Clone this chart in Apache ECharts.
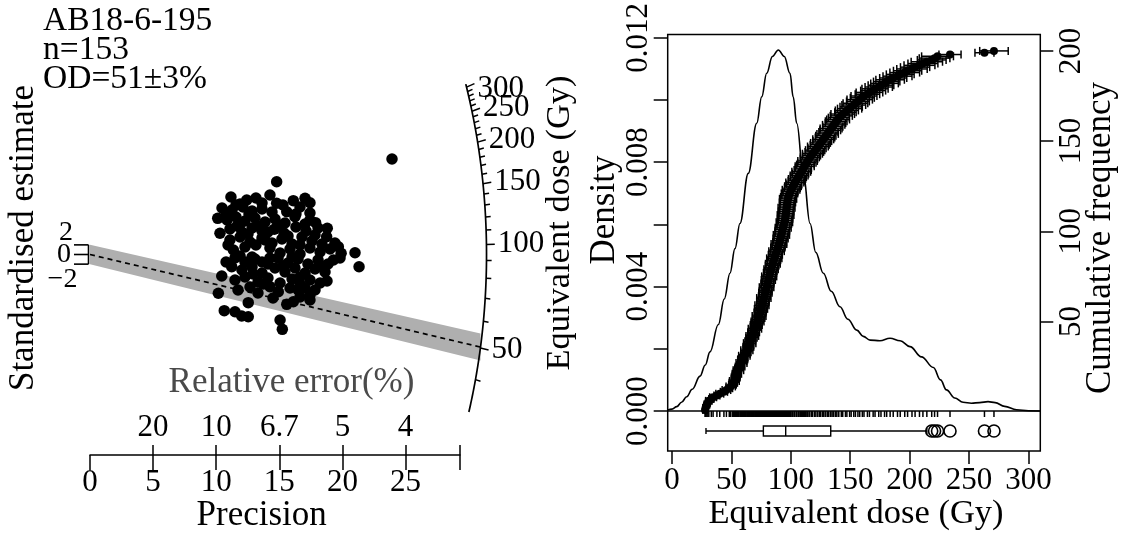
<!DOCTYPE html>
<html><head><meta charset="utf-8">
<script src="https://cdn.jsdelivr.net/npm/echarts@6.0.0/dist/echarts.min.js"></script>
<style>html,body{margin:0;padding:0;background:#fff}#c{width:1129px;height:541px}</style>
</head><body><div id="c"></div>
<script>
// ================= DATA =================
const headerLines = ['AB18-6-195', 'n=153', 'OD=51\u00b13%'];

// Radial plot points: [precision, standardised estimate]
const radialPoints = [
[23.93,19.82],[14.79,15.11],
[11.17,11.93],[12.42,11.31],[13.15,11.73],[14.26,12.35],[14.79,10.63],[16.11,11.17],[17.04,11.66],[17.43,10.75],[13.63,10.69],[11.89,10.48],
[10.46,9.65],[11.25,9.24],[12.12,9.86],[12.84,9.03],[13.63,9.44],[14.42,8.82],[15.59,8.88],[16.32,8.41],[17.43,8.61],[12.60,8.41],
[10.12,7.51],[10.86,7.16],[11.57,7.78],[12.28,6.95],[13.07,7.58],[13.87,6.75],[14.66,7.37],[15.45,6.54],[16.24,7.85],[17.04,6.33],[17.43,7.16],[17.88,6.60],[11.89,6.33],
[10.30,4.40],[11.09,5.29],[12.04,4.67],[12.84,5.50],[13.63,4.88],[14.60,5.23],[15.37,4.46],[16.32,5.71],[17.12,4.88],[18.07,5.50],[18.80,5.44],[13.31,5.92],
[11.09,3.01],[11.89,3.63],[12.68,2.59],[13.63,3.42],[14.42,2.39],[15.21,3.22],[16.01,2.18],[16.80,3.63],[17.59,2.80],[18.38,2.18],[18.75,3.69],[19.41,2.39],[13.15,1.97],
[11.36,0.93],[12.28,1.56],[12.84,-0.52],[14.26,1.35],[15.06,0.31],[15.85,1.14],[16.64,0.10],[17.43,1.35],[18.23,0.52],[19.02,1.14],[19.68,1.62],[19.90,0.25],[21.00,0.37],[14.26,-0.73],
[11.49,-0.73],[12.28,-1.56],[13.07,-0.93],[14.10,-1.97],[14.90,-0.73],[15.69,-1.76],[16.48,-0.93],[17.27,-1.97],[18.07,-1.14],[18.86,-1.97],[19.81,-0.73],
[11.23,-2.53],[12.04,-3.22],[12.84,-2.59],[13.63,-3.84],[14.66,-2.80],[15.45,-3.63],[16.24,-2.80],[17.04,-3.84],[17.83,-3.01],[18.62,-3.63],[21.32,-2.53],
[10.44,-4.46],[11.49,-5.29],[12.28,-4.67],[13.31,-5.71],[14.10,-4.88],[15.06,-5.92],[16.01,-5.09],[16.64,-6.12],[17.43,-5.29],[18.23,-5.92],
[11.73,-7.37],[12.68,-6.75],[13.73,-6.12],[14.26,-6.68],[14.92,-7.72],[15.85,-6.95],[16.50,-7.37],[17.43,-8.41],[17.04,-6.95],
[10.17,-8.05],[12.54,-10.00],[15.59,-10.34],[16.11,-9.80],[17.43,-9.44],[16.64,-8.82],
[10.64,-11.66],[11.49,-11.87],[12.02,-12.76],[12.54,-12.91],[15.06,-13.59],
[15.24,-15.53],
[10.78,8.41],[11.65,5.92],[12.52,4.25],[13.87,3.01],[14.90,6.12],[15.69,3.84],[16.64,1.97],[17.83,4.05],[13.63,-1.56],[15.29,-2.39],[16.64,-4.67],[17.83,-7.37],[18.78,-5.50],[12.92,-4.05],[11.89,-0.31],[10.94,1.97],[11.57,10.27],[15.29,10.27],[16.64,9.86],[14.10,4.67],[16.01,-0.52],[18.38,-2.39],[19.29,-1.14],[14.50,-9.03],[13.31,-7.99],[10.78,-1.56]
];
const radialZCentral = 93.6;      // Gy at standardised estimate 0
const radialCentralDose = 50.3;   // Gy, dashed central line
const arcDoseRange = [31.5, 307];
const arcMajorTicks = [50, 100, 150, 200, 250, 300];
const arcMinorTicks = [40, 60, 70, 80, 90, 110, 120, 130, 140, 160, 170, 180, 190, 210, 220, 230, 240, 260, 270, 280, 290];
const zTickValues = [2, 0, -2];
const zTickLabels = ['2', '0', '\u22122'];
const precisionTicks = [0, 5, 10, 15, 20, 25];
const relErrorTickPos = [5, 10, 15, 20, 25];
const relErrorTickLabels = ['20', '10', '6.7', '5', '4'];

// KDE panel: sorted equivalent doses (Gy) and their errors (Gy)
const doses = [
27.8,28.3,28.6,29.4,30.2,31.0,33.1,34.6,37.8,40.2,
43.7,45.8,48.2,49.4,50.9,51.6,52.5,52.9,53.6,54.0,
54.6,55.0,55.9,56.4,57.3,57.7,58.5,59.1,59.5,60.4,
60.9,61.8,62.2,63.0,63.5,64.3,64.7,65.4,65.8,66.5,
66.9,67.6,68.0,68.7,69.1,69.8,70.2,70.9,71.2,72.0,
72.3,73.0,73.3,73.9,74.1,74.7,74.9,75.5,75.7,76.3,
76.5,77.1,77.3,77.8,78.0,78.6,78.8,79.4,79.6,80.2,
80.3,80.9,81.1,81.7,81.8,82.4,82.5,83.1,83.4,84.0,
84.3,84.9,85.2,85.8,86.1,86.7,87.0,87.7,88.0,88.7,
89.1,89.8,90.0,90.6,90.8,91.4,91.6,92.1,92.3,92.8,
93.0,93.6,93.8,94.4,94.6,95.2,95.2,95.6,95.6,96.0,
96.0,96.4,96.4,96.8,96.8,97.2,97.2,97.7,97.8,98.5,
98.9,99.8,100.2,101.3,101.8,102.9,103.4,104.6,105.2,106.4,
107.0,108.2,108.8,110.0,110.6,111.7,112.3,113.5,114.1,115.3,
116.0,117.5,118.2,119.8,120.5,122.1,122.8,124.3,125.0,126.5,
127.3,128.8,129.5,131.0,131.7,133.2,133.9,135.4,136.1,137.6,
138.2,139.8,140.4,142.5,143.7,146.0,147.2,149.5,150.8,153.0,
154.4,156.5,158.0,160.2,161.6,164.5,166.2,169.3,170.9,174.0,
175.9,178.9,180.7,183.6,186.2,189.8,192.1,195.9,198.3,202.0,
204.6,208.3,211.2,214.5,218.6,221.0,223.5,234.0,263.0,271.0
];
const doseErrors = [
1.8,2.2,1.6,2.4,2.0,2.7,2.1,2.9,2.5,3.3,
3.0,3.6,2.8,3.9,3.2,3.5,4.1,3.0,3.7,3.4,
3.9,3.3,4.4,3.6,4.0,3.2,4.6,3.8,4.2,3.5,
4.8,3.9,4.3,5.1,3.7,4.5,4.0,5.2,4.4,3.9,
4.7,5.3,4.1,4.9,4.4,5.6,4.2,5.0,4.6,5.4,
4.5,5.1,5.8,4.3,5.0,4.7,5.5,4.4,5.9,4.8,
5.2,4.6,6.0,5.0,4.7,5.6,5.3,4.5,6.1,5.0,
5.4,4.8,5.9,5.1,6.3,4.9,5.5,5.2,6.0,4.8,
5.7,6.2,5.0,5.6,6.4,5.3,5.9,5.1,6.5,5.6,
6.0,5.4,6.6,5.8,5.2,6.3,5.7,6.8,5.5,6.1,
5.9,6.7,5.4,6.2,6.9,5.6,6.4,5.8,7.0,6.0,
6.5,5.7,7.1,6.2,5.9,6.8,6.1,7.2,6.4,6.0,
6.9,6.3,7.4,6.6,7.0,6.4,7.6,6.8,7.2,6.7,
7.5,6.9,7.9,7.2,6.8,8.0,7.4,7.7,8.2,7.3,
8.0,7.5,8.4,7.8,8.1,7.6,8.7,8.0,8.3,7.9,
8.8,8.2,8.5,9.0,8.1,8.7,9.2,8.4,9.4,8.6,
9.1,9.6,8.8,9.3,9.9,9.0,9.7,10.2,9.4,10.0,
10.4,9.6,10.7,10.1,10.9,10.3,11.2,10.5,11.0,11.5,
10.8,11.6,11.1,12.0,11.4,12.2,11.7,12.5,11.9,12.8,
12.3,13.0,12.6,13.2,12.1,12.9,13.4,9.3,8.0,12.0
];
// Kernel density curve: [dose (Gy), density]
const kdePoints = [
[-3.6,0.00003],[0,0.00006],[4,0.00014],[8,0.00028],[12.4,0.00046],[17,0.00070],[23.6,0.00112],[28,0.00148],
[32,0.0019],[39,0.00278],[44,0.0036],[48.8,0.00443],[53,0.00522],[57.2,0.00603],[64.2,0.00764],[71.3,0.00925],
[75.5,0.0101],[79.7,0.01086],[84.5,0.0114],[89.5,0.01161],[94.5,0.0114],[99.3,0.01086],[102,0.0101],[105,0.00925],
[110.5,0.00764],[116.2,0.00603],[121,0.0051],[127.4,0.00443],[134,0.00385],[141.4,0.00335],[148,0.00295],
[155.5,0.0026],[161,0.0024],[166.7,0.00228],[175,0.00226],[183.5,0.00234],[192,0.00226],[200.3,0.00207],
[210,0.00174],[220,0.0014],[226,0.001],[231,0.00068],[238,0.00042],[245,0.00028],[252,0.00025],[259,0.00027],
[266,0.0003],[272,0.00027],[280,0.00015],[290,0.00004],[300,0.00001],[310,0]
];
// Boxplot: [lower whisker, Q1, median, Q3, upper whisker] and outliers
const boxStats = [28.6, 76.9, 95.7, 133.6, 214.5];
const boxOutliers = [218.6, 221.0, 223.5, 234.0, 263.0, 271.0];
const doseTicks = [0, 50, 100, 150, 200, 250, 300];
const densityTicks = [0, 0.002, 0.004, 0.006, 0.008, 0.010, 0.012];
const densityLabels = [0, 0.004, 0.008, 0.012];
const cumFreqTicks = [50, 100, 150, 200];

// ================= CHART =================
const FONT = 'Liberation Serif';
const BLACK = '#000';
const arcR = 31.42, arcF = 0.2836;           // radial-plot arc geometry
const bandHalf = [2, 2.8];                   // grey band half-width (origin, arc)
const precMax = 29.32;

function arcPoint(d, k) {
  const s = Math.log(d / radialZCentral);
  const x = arcR / Math.sqrt(1 + arcF * arcF * s * s) * k;
  return [x, s * x];
}

const chart = echarts.init(document.getElementById('c'), null, {renderer: 'canvas', width: 1129, height: 541});

const lbl = (size) => ({fontFamily: FONT, fontSize: size, color: BLACK});
const tickLine = {color: BLACK, width: 1.5};

const cumData = doses.map((d, i) => [d, i + 1, doseErrors[i]]);
const boxY = -0.000643;

const option = {
  animation: false,
  backgroundColor: '#fff',
  grid: [
    {left: 90, top: 60, width: 403.84, height: 380, containLabel: false, outerBoundsMode: 'none'},
    {left: 90, top: 455, width: 370, height: 0.01, containLabel: false, outerBoundsMode: 'none'},
    {left: 667.7, top: 34.5, width: 372.6, height: 416.5, show: true, borderColor: BLACK, borderWidth: 1.5,
     backgroundColor: 'transparent', containLabel: false, outerBoundsMode: 'none'}
  ],
  xAxis: [
    {gridIndex: 0, type: 'value', min: 0, max: 32, show: false},
    {gridIndex: 1, type: 'value', min: 0, max: precMax, position: 'bottom',
     axisLine: {show: true, onZero: false, lineStyle: tickLine},
     axisTick: {show: true, length: 15, customValues: precisionTicks.concat([precMax]), lineStyle: tickLine},
     axisLabel: {customValues: precisionTicks, margin: 12, ...lbl(31)},
     splitLine: {show: false}},
    {gridIndex: 1, type: 'value', min: 0, max: precMax, position: 'top',
     axisLine: {show: false, onZero: false},
     axisTick: {show: true, length: 10, customValues: relErrorTickPos.concat([precMax]), lineStyle: tickLine},
     axisLabel: {customValues: relErrorTickPos, margin: 12, ...lbl(31),
       formatter: (v) => relErrorTickLabels[relErrorTickPos.indexOf(v)] || ''},
     splitLine: {show: false}},
    {gridIndex: 2, type: 'value', min: -3.62, max: 310, position: 'bottom',
     axisLine: {show: false, onZero: false},
     axisTick: {show: true, length: 13, customValues: doseTicks, lineStyle: tickLine},
     axisLabel: {customValues: doseTicks, margin: 14, ...lbl(31)},
     splitLine: {show: false}}
  ],
  yAxis: [
    {gridIndex: 0, type: 'value', min: -38.50, max: 40.37, show: false},
    {gridIndex: 1, type: 'value', min: 0, max: 1, show: false},
    {gridIndex: 2, type: 'value', min: -0.001286, max: 0.012106, position: 'left',
     axisLine: {show: false, onZero: false},
     axisTick: {show: true, length: 14, customValues: densityTicks, lineStyle: tickLine},
     axisLabel: {customValues: densityLabels, rotate: 90, margin: 13, ...lbl(31), formatter: (v) => v.toFixed(3)},
     splitLine: {show: false}},
    {gridIndex: 2, type: 'value', min: -21.79, max: 209.1, position: 'right',
     axisLine: {show: false, onZero: false},
     axisTick: {show: true, length: 13, customValues: cumFreqTicks, lineStyle: tickLine},
     axisLabel: {customValues: cumFreqTicks, rotate: 90, margin: 16, ...lbl(31)},
     splitLine: {show: false}}
  ],
  series: [
    // ---- radial plot ----
    {type: 'custom', xAxisIndex: 0, yAxisIndex: 0, data: [[0, 0]], z: 1, silent: true,
     renderItem: (params, api) => {
       const e = arcPoint(radialCentralDose, 1);
       const pts = [api.coord([0, -bandHalf[0]]), api.coord([0, bandHalf[0]]),
                    api.coord([e[0], e[1] + bandHalf[1]]), api.coord([e[0], e[1] - bandHalf[1]])];
       return {type: 'polygon', shape: {points: pts}, style: {fill: '#afafaf', stroke: null}};
     }},
    {type: 'line', xAxisIndex: 0, yAxisIndex: 0, z: 2, silent: true, symbol: 'none',
     data: [[0, 0], arcPoint(radialCentralDose, 1)],
     lineStyle: {color: BLACK, width: 1.7, type: [5, 4], opacity: 1}},
    {type: 'custom', xAxisIndex: 0, yAxisIndex: 0, z: 3, silent: true, data: zTickValues.map(z => [0, z]),
     renderItem: (params, api) => {
       const z = api.value(1);
       const c = api.coord([0, z]);
       const children = [{type: 'line', shape: {x1: c[0] - 16, y1: c[1], x2: c[0] - 1.5, y2: c[1]},
                          style: {stroke: BLACK, lineWidth: 1.6}}];
       if (z === 0) {
         const a = api.coord([0, 2]), b = api.coord([0, -2]);
         children.push({type: 'line', shape: {x1: a[0] - 1.5, y1: a[1], x2: b[0] - 1.5, y2: b[1]},
                        style: {stroke: BLACK, lineWidth: 1.6}});
       }
       const idx = zTickValues.indexOf(z);
       const off = z > 0 ? -12.4 : (z < 0 ? 15 : 0.5);
       const lx = z > 0 ? 66 : (z < 0 ? 62.5 : 64);
       children.push({type: 'text', style: {text: zTickLabels[idx], x: lx, y: c[1] + off,
         font: '28px "' + FONT + '"', align: 'center', verticalAlign: 'middle', fill: BLACK}});
       return {type: 'group', children};
     }},
    {type: 'custom', xAxisIndex: 0, yAxisIndex: 0, z: 3, silent: true, data: [[0, 0]],
     renderItem: (params, api) => {
       const pts = [];
       const l0 = Math.log(arcDoseRange[0]), l1 = Math.log(arcDoseRange[1]);
       for (let i = 0; i <= 240; i++) pts.push(api.coord(arcPoint(Math.exp(l0 + (l1 - l0) * i / 240), 1)));
       return {type: 'polyline', shape: {points: pts}, style: {stroke: BLACK, lineWidth: 1.7, fill: null}};
     }},
    {type: 'custom', xAxisIndex: 0, yAxisIndex: 0, z: 3, silent: true,
     data: arcMajorTicks.map(d => [d, 1]).concat(arcMinorTicks.map(d => [d, 0])),
     renderItem: (params, api) => {
       const d = api.value(0), major = api.value(1) === 1;
       const p0 = api.coord(arcPoint(d, 1));
       const p1 = api.coord(arcPoint(d, major ? 1.021 : 1.013));
       const children = [{type: 'line', shape: {x1: p0[0], y1: p0[1], x2: p1[0], y2: p1[1]},
                          style: {stroke: BLACK, lineWidth: 1.5}}];
       if (major) children.push({type: 'text', style: {text: String(d), x: p1[0] + 3, y: p1[1] + (d === 300 ? 5 : 0),
         font: '31px "' + FONT + '"', align: 'left', verticalAlign: 'middle', fill: BLACK}});
       return {type: 'group', children};
     }},
    {type: 'scatter', xAxisIndex: 0, yAxisIndex: 0, z: 4, silent: true, data: radialPoints,
     symbol: 'circle', symbolSize: 11.5, itemStyle: {color: BLACK, opacity: 1}},

    // ---- KDE panel ----
    {type: 'line', xAxisIndex: 3, yAxisIndex: 2, z: 3, silent: true, data: kdePoints, symbol: 'none',
     smooth: 0.4, smoothMonotone: 'x', lineStyle: {color: BLACK, width: 1.6},
     markLine: {silent: true, symbol: 'none', label: {show: false},
       lineStyle: {color: BLACK, width: 1.6, type: 'solid', opacity: 1}, data: [{yAxis: 0}]}},
    {type: 'custom', xAxisIndex: 3, yAxisIndex: 2, z: 3, silent: true, data: doses.map(d => [d, 0]),
     renderItem: (params, api) => {
       const c = api.coord([api.value(0), 0]);
       return {type: 'line', shape: {x1: c[0], y1: c[1], x2: c[0], y2: c[1] + 6},
               style: {stroke: BLACK, lineWidth: 1.5}};
     }},
    {type: 'custom', xAxisIndex: 3, yAxisIndex: 2, z: 3, silent: true, data: [boxStats],
     renderItem: (params, api) => {
       const v = [0, 1, 2, 3, 4].map(i => api.coord([api.value(i), boxY]));
       const y = v[0][1], h = 5;
       const st = {stroke: BLACK, lineWidth: 1.4, fill: null};
       return {type: 'group', children: [
         {type: 'line', shape: {x1: v[0][0], y1: y, x2: v[1][0], y2: y}, style: st},
         {type: 'line', shape: {x1: v[3][0], y1: y, x2: v[4][0], y2: y}, style: st},
         {type: 'line', shape: {x1: v[0][0], y1: y - 3, x2: v[0][0], y2: y + 3}, style: st},
         {type: 'line', shape: {x1: v[4][0], y1: y - 3, x2: v[4][0], y2: y + 3}, style: st},
         {type: 'rect', shape: {x: v[1][0], y: y - h, width: v[3][0] - v[1][0], height: 2 * h}, style: {stroke: BLACK, lineWidth: 1.4, fill: '#fff'}},
         {type: 'line', shape: {x1: v[2][0], y1: y - h, x2: v[2][0], y2: y + h}, style: st}
       ]};
     }},
    {type: 'scatter', xAxisIndex: 3, yAxisIndex: 2, z: 4, silent: true, data: boxOutliers.map(o => [o, boxY]),
     symbol: 'circle', symbolSize: 12, itemStyle: {color: 'rgba(0,0,0,0)', borderColor: BLACK, borderWidth: 1.6, opacity: 1}},
    {type: 'custom', xAxisIndex: 3, yAxisIndex: 3, z: 4, silent: true, data: cumData,
     renderItem: (params, api) => {
       const d = api.value(0), r = api.value(1), e = api.value(2);
       const a = api.coord([d - e, r]), b = api.coord([d + e, r]);
       const st = {stroke: BLACK, lineWidth: 1.5};
       return {type: 'group', children: [
         {type: 'line', shape: {x1: a[0], y1: a[1], x2: b[0], y2: b[1]}, style: st},
         {type: 'line', shape: {x1: a[0], y1: a[1] - 4, x2: a[0], y2: a[1] + 4}, style: st},
         {type: 'line', shape: {x1: b[0], y1: b[1] - 4, x2: b[0], y2: b[1] + 4}, style: st}
       ]};
     }},
    {type: 'scatter', xAxisIndex: 3, yAxisIndex: 3, z: 5, silent: true, data: cumData.map(p => [p[0], p[1]]),
     symbol: 'circle', symbolSize: 8, itemStyle: {color: BLACK, opacity: 1}}
  ],
  graphic: [
    ...headerLines.map((t, i) => ({type: 'text', x: 43, y: [21.5, 50, 79.5][i], silent: true,
      style: {text: t, font: '33.5px "' + FONT + '"', align: 'left', verticalAlign: 'middle', fill: BLACK}})),
    {type: 'text', x: 23.5, y: 238, rotation: Math.PI / 2, silent: true,
     style: {text: 'Standardised estimate', font: '35px "' + FONT + '"', align: 'center', verticalAlign: 'middle', fill: BLACK}},
    {type: 'text', x: 291.5, y: 383, silent: true,
     style: {text: 'Relative error(%)', font: '35px "' + FONT + '"', align: 'center', verticalAlign: 'middle', fill: '#4a4a4a'}},
    {type: 'text', x: 261.7, y: 515.5, silent: true,
     style: {text: 'Precision', font: '35px "' + FONT + '"', align: 'center', verticalAlign: 'middle', fill: BLACK}},
    {type: 'text', x: 560, y: 223, rotation: Math.PI / 2, silent: true,
     style: {text: 'Equivalent dose (Gy)', font: '34.5px "' + FONT + '"', align: 'center', verticalAlign: 'middle', fill: BLACK}},
    {type: 'text', x: 605, y: 210, rotation: Math.PI / 2, silent: true,
     style: {text: 'Density', font: '35px "' + FONT + '"', align: 'center', verticalAlign: 'middle', fill: BLACK}},
    {type: 'text', x: 1101, y: 238, rotation: Math.PI / 2, silent: true,
     style: {text: 'Cumulative frequency', font: '35px "' + FONT + '"', align: 'center', verticalAlign: 'middle', fill: BLACK}},
    {type: 'text', x: 856, y: 513.5, silent: true,
     style: {text: 'Equivalent dose (Gy)', font: '34.5px "' + FONT + '"', align: 'center', verticalAlign: 'middle', fill: BLACK}}
  ]
};
chart.setOption(option);
</script>
</body></html>
